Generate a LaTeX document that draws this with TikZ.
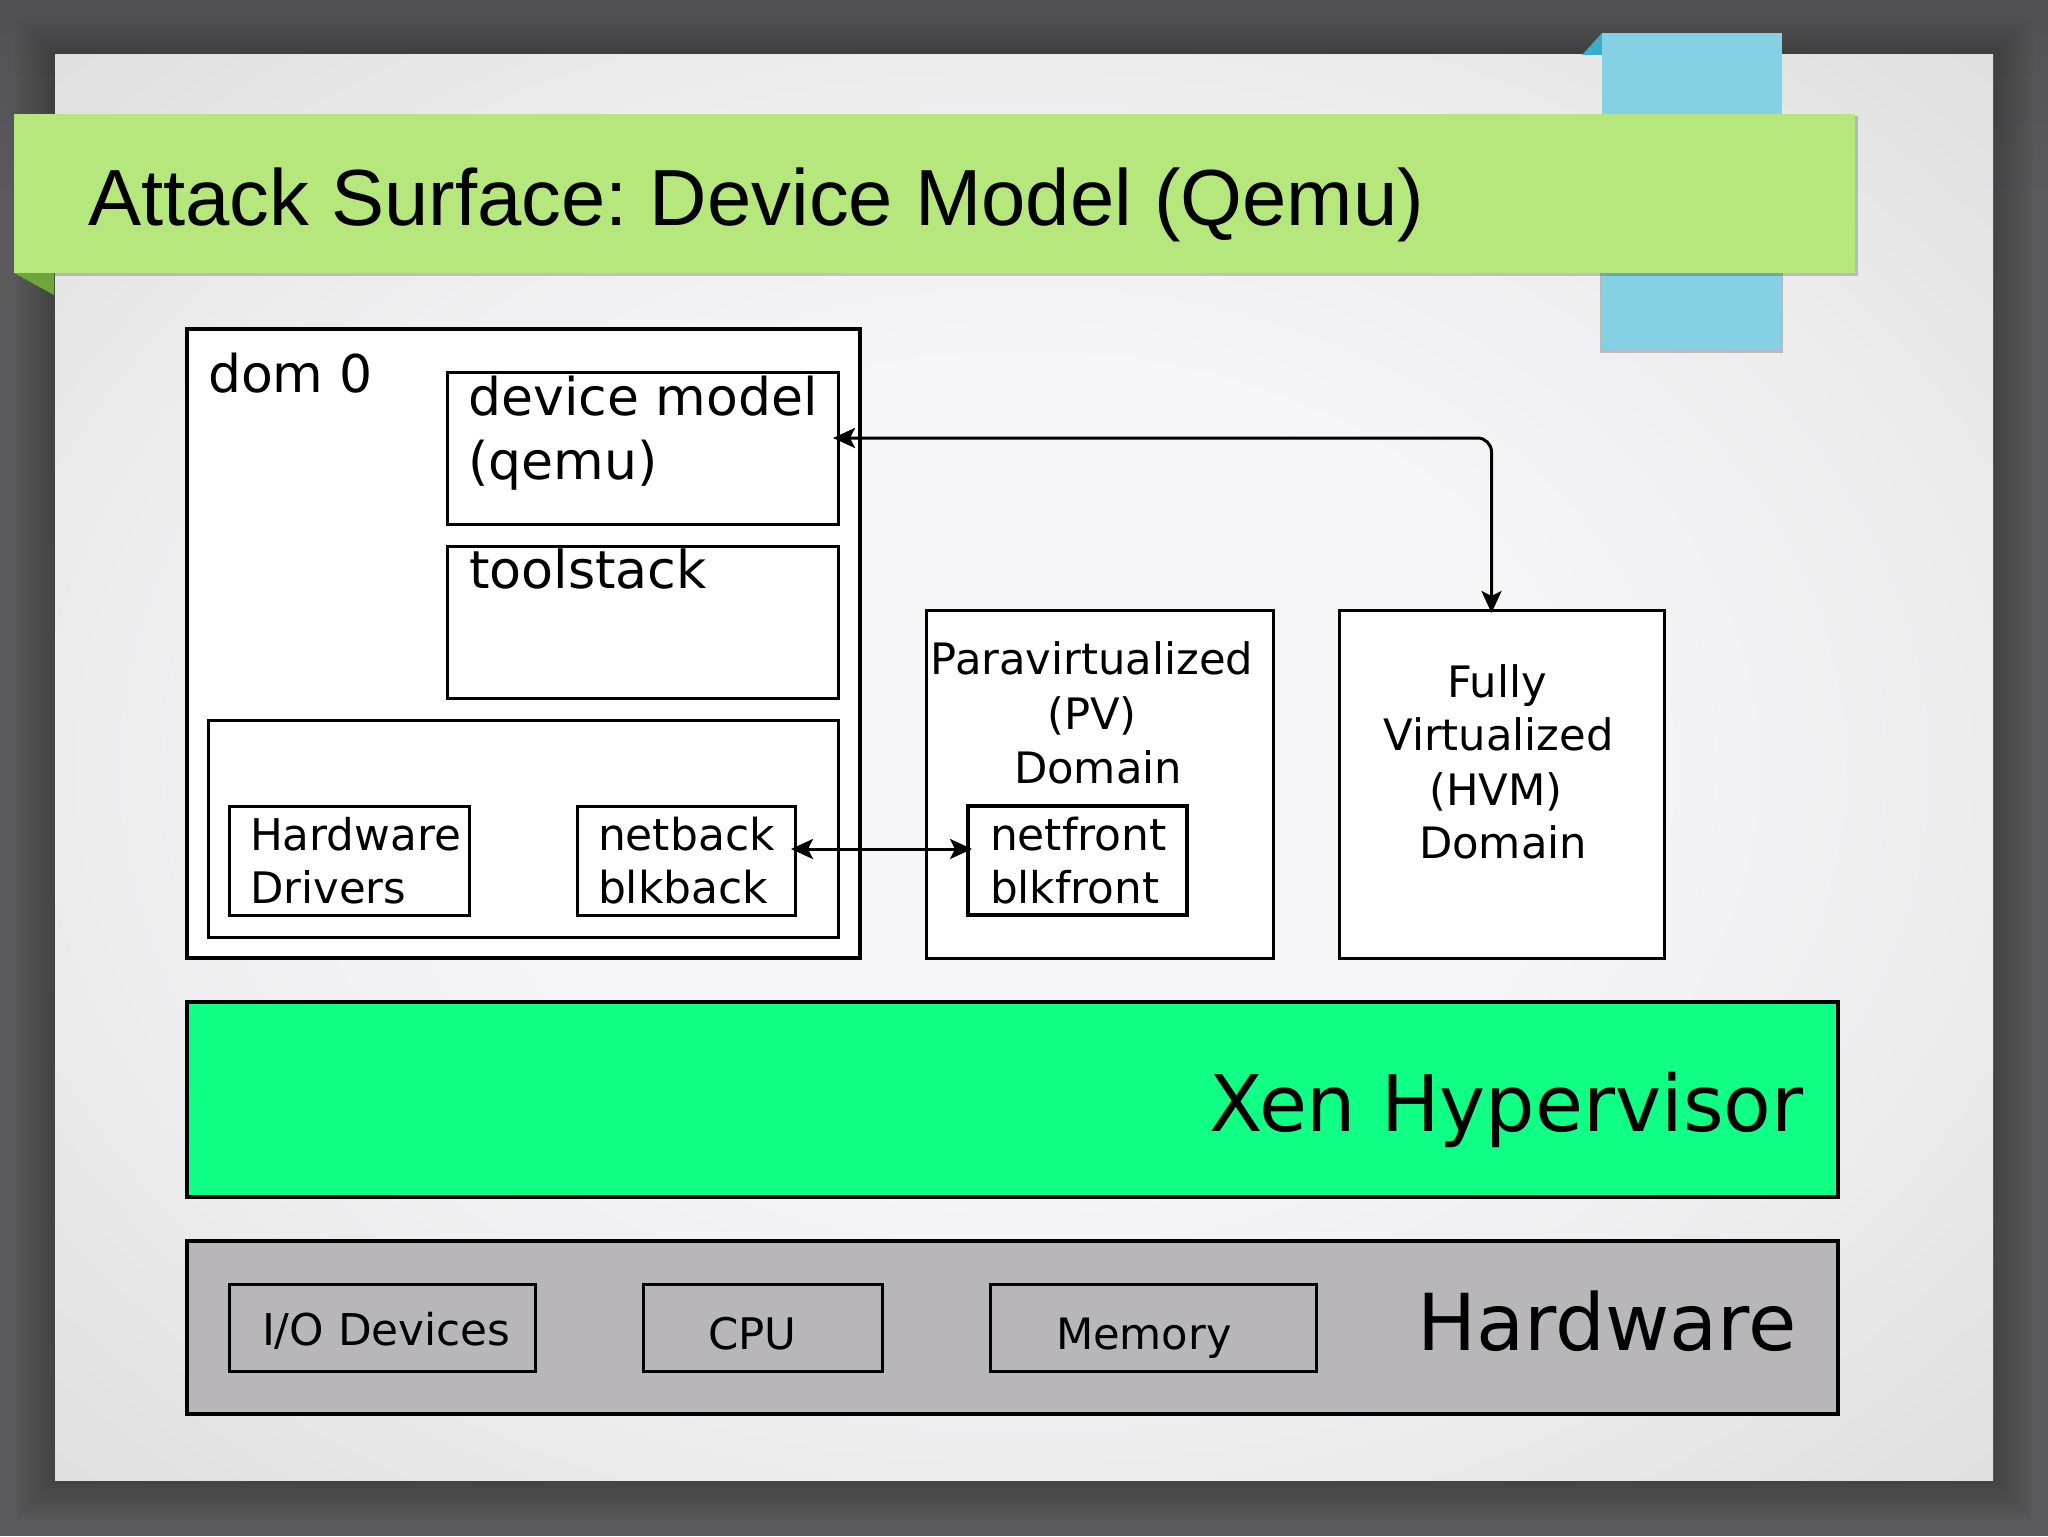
\documentclass[tikz,border=0pt]{standalone}
\usepackage{fontspec}
\setmainfont{DejaVu Sans}
\newfontfamily\titlefont{Liberation Sans}
\usetikzlibrary{arrows.meta,calc}
\frenchspacing
\definecolor{bgdark}{HTML}{5A5A5C}
\definecolor{slideedge}{HTML}{E0E0E0}
\definecolor{slidering}{HTML}{ECECED}
\definecolor{slidemid}{HTML}{F7F6F9}
\definecolor{bannergreen}{HTML}{B5E77D}
\definecolor{foldgreen}{HTML}{6FA53A}
\definecolor{tabblue}{HTML}{85D0E3}
\definecolor{foldblue}{HTML}{3AAEC8}
\definecolor{xengreen}{HTML}{10FF85}
\definecolor{hwgray}{HTML}{B8B6B8}
\pgfdeclareradialshading{slideglow}{\pgfpoint{0bp}{0bp}}{%
  color(0bp)=(slidemid); color(13bp)=(slidemid); color(25bp)=(slidering); color(35bp)=(slideedge); color(50bp)=(slideedge)}
\tikzset{
  thickbox/.style={draw=black,line width=2pt,fill=white,inner sep=0pt,outer sep=0pt,rectangle},
  thinbox/.style={draw=black,line width=1.5pt,fill=white,inner sep=0pt,outer sep=0pt,rectangle},
  xenbox/.style={thinbox,line width=1.75pt,fill=xengreen},
  hwbox/.style={thinbox,line width=1.75pt,fill=hwgray},
  hwpart/.style={thinbox,fill=hwgray},
  lefttext/.style={anchor=base west,inner sep=0pt,outer sep=0pt},
  midtext/.style={anchor=base,inner sep=0pt,outer sep=0pt},
  link/.style={draw=black,line width=1.5pt,{Stealth[length=11pt,width=10pt,inset=2.5pt]}-{Stealth[length=11pt,width=10pt,inset=2.5pt]}},
}
% name, x1, y1, x2, y2, style (all in reference pixels)
\newcommand\boxnode[6]{\node[#6,minimum width=\fpeval{(#4-#2)/2}pt,minimum height=\fpeval{(#5-#3)/2}pt] (#1) at (\fpeval{(#2+#4)/2},\fpeval{(#3+#5)/2}) {};}
% name, x, baseline, size px, style, text
\newcommand\textnode[6]{\node[#5,font=\fontsize{\fpeval{#4/2}pt}{\fpeval{#4/2}pt}\selectfont] (#1) at (#2,#3) {#6};}
\begin{document}
\begin{tikzpicture}[x=0.5pt,y=-0.5pt]
\useasboundingbox (0,0) rectangle (2048,1536);
\fill[bgdark] (0,0) rectangle (2048,1536);
\shade[top color=black!10!bgdark,bottom color=bgdark] (0,0) rectangle (2048,200);
% soft shadow of the slide
\foreach \e in {4,8,...,40}{
  \fill[black,opacity=.025] (55-\e,55-\e) rectangle (1993+\e,1480+\e);
}
% slide
\shade[shading=slideglow] (55,55) rectangle (1993,1480);
% blue tab
\fill[foldblue] (1602,33) -- (1582,55) -- (1602,55) -- cycle;
\fill[black,opacity=.22] (1600,273) rectangle (1783,353);
\fill[tabblue] (1602,33) rectangle (1782,350);
% green banner
\fill[foldgreen] (14,273) -- (54,273) -- (54,295) -- cycle;
\fill[black,opacity=.2] (55,116) rectangle (1858,276);
\fill[bannergreen] (14,114) rectangle (1855,273);
\textnode{title}{88}{225}{79.6}{lefttext}{\titlefont Attack Surface: Device Model (Qemu)}
% boxes
\boxnode{dom}{187}{329}{860}{958}{thickbox}
\boxnode{dev}{447}{372}{838}{524}{thinbox}
\boxnode{tool}{447}{546}{838}{698}{thinbox}
\boxnode{inner}{208}{720}{838}{937}{thinbox}
\boxnode{drivers}{229}{806}{469}{915}{thinbox}
\boxnode{back}{577}{806}{795}{915}{thinbox}
\boxnode{pv}{926}{610}{1273}{958}{thinbox}
\boxnode{front}{968}{806}{1187}{915}{thickbox}
\boxnode{hvm}{1339}{610}{1664}{958}{thinbox}
\boxnode{xen}{187}{1002}{1838}{1197}{xenbox}
\boxnode{hw}{187}{1241}{1838}{1414}{hwbox}
\boxnode{io}{229}{1284}{535}{1371}{hwpart}
\boxnode{cpu}{643}{1284}{882}{1371}{hwpart}
\boxnode{mem}{990}{1284}{1316}{1371}{hwpart}
% texts
\textnode{t1}{208}{392}{52}{lefttext}{dom 0}
\textnode{t2}{468.5}{415}{52}{lefttext}{device model}
\textnode{t3}{468.5}{479}{52}{lefttext}{(qemu)}
\textnode{t4}{469}{588}{52.3}{lefttext}{toolstack}
\textnode{t5}{250}{850}{43.7}{lefttext}{Hardware}
\textnode{t6}{250}{903}{43.4}{lefttext}{Drivers}
\textnode{t7}{598}{850}{44}{lefttext}{netback}
\textnode{t8}{598}{903}{44}{lefttext}{blkback}
\textnode{t9}{990}{850}{44}{lefttext}{netfront}
\textnode{t10}{990}{903}{43.7}{lefttext}{blkfront}
\textnode{t11}{1092}{674}{43.3}{midtext}{Paravirtualized}
\textnode{t12}{1092}{729}{43.3}{midtext}{(PV)}
\textnode{t13}{1098}{783}{43.3}{midtext}{Domain}
\textnode{t14}{1497}{697}{43.3}{midtext}{Fully}
\textnode{t15}{1498.5}{750}{43.3}{midtext}{Virtualized}
\textnode{t16}{1496}{805}{43.3}{midtext}{(HVM)}
\textnode{t17}{1503}{858}{43.3}{midtext}{Domain}
\textnode{t18}{1209}{1131}{78}{lefttext}{Xen Hypervisor}
\textnode{t19}{1417}{1350}{78.6}{lefttext}{Hardware}
\textnode{t20}{262}{1345}{43.8}{lefttext}{I/O Devices}
\textnode{t21}{708}{1349}{43.5}{lefttext}{CPU}
\textnode{t22}{1056}{1349}{43.2}{lefttext}{Memory}
% connectors
\draw[link,rounded corners=7pt] ($(dev.east)+(-5,-10)$) -| ($(hvm.north)+(-10,3)$);
\draw[link] ($(back.east)+(-4,-11.5)$) -- ($(front.west)+(4,-11.5)$);
\end{tikzpicture}
\end{document}
